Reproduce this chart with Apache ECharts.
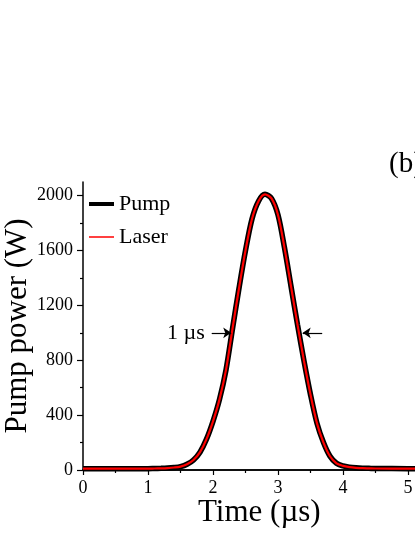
<!DOCTYPE html>
<html>
<head>
<meta charset="utf-8">
<script src="https://cdn.jsdelivr.net/npm/echarts@6/dist/echarts.min.js"></script>
<style>
  html, body { margin: 0; padding: 0; background: #fff; }
  #chart { width: 415px; height: 537px; }
</style>
</head>
<body>
<div id="chart"></div>
<script>
// time (µs) and power (W)
const timeUs = [0, 0.5, 1.0, 1.1, 1.2, 1.3, 1.4, 1.5, 1.6, 1.7, 1.8, 1.9, 2.0, 2.1, 2.2, 2.3, 2.4, 2.5, 2.6, 2.7, 2.8, 2.9, 3.0, 3.1, 3.2, 3.3, 3.4, 3.5, 3.6, 3.7, 3.8, 3.9, 4.0, 4.1, 4.2, 4.3, 4.4, 4.5, 5.0, 5.5, 6.0];
const pumpPower = [10, 10, 10, 11, 12, 14, 18, 25, 42, 73, 130, 225, 355, 515, 730, 1030, 1325, 1600, 1830, 1960, 2010, 1980, 1860, 1620, 1340, 1060, 795, 550, 340, 200, 100, 49, 30, 21, 16, 13, 12, 11, 10, 10, 10];
const laserPower = [10, 10, 10, 11, 12, 14, 18, 25, 42, 73, 130, 225, 355, 515, 730, 1030, 1325, 1600, 1830, 1960, 2010, 1980, 1860, 1620, 1340, 1060, 795, 550, 340, 200, 100, 49, 30, 21, 16, 13, 12, 11, 10, 10, 10];

const yMajor = [0, 400, 800, 1200, 1600, 2000];
const yMinor = [200, 600, 1000, 1400, 1800];

// FWHM arrows: [from, to] in µs, at half maximum
const fwhmLevel = 1000;
const arrowLeft = [1.98, 2.28];
const arrowRight = [3.68, 3.38];

const FONT = "Liberation Serif";

const chart = echarts.init(document.getElementById("chart"));

const pair = (xs, ys) => xs.map((x, i) => [x, ys[i]]);
const plain = (v) => String(v);

const option = {
  animation: false,
  grid: { left: 83, top: 182, width: 390, height: 288, containLabel: false, outerBoundsMode: "none" },
  legend: {
    orient: "vertical",
    left: 89,
    top: 193,
    padding: 0,
    itemWidth: 25,
    itemHeight: 14,
    itemGap: 11,
    symbolKeepAspect: true,
    textStyle: { fontFamily: FONT, fontSize: 22, color: "#000" },
    data: [
      { name: "Pump", icon: "path://M0,0H25V4H0Z", itemStyle: { color: "#000" } },
      { name: "Laser", icon: "path://M0,0H25V1.5H0Z", itemStyle: { color: "#ff0000" } },
    ],
  },
  graphic: [
    {
      type: "text",
      left: 198,
      top: 497,
      style: { text: "Time (µs)", font: "31px " + FONT, fill: "#000" },
    },
    {
      type: "text",
      left: 389,
      top: 150,
      style: { text: "(b)", font: "29px " + FONT, fill: "#000" },
    },
  ],
  xAxis: [
    {
      type: "value",
      min: 0,
      max: 6,
      interval: 1,
      axisLine: { lineStyle: { color: "#000", width: 1.5 } },
      axisTick: { length: 5, lineStyle: { color: "#000", width: 1.2 } },
      minorTick: { show: true, splitNumber: 2, length: 3, lineStyle: { color: "#000", width: 1.2 } },
      splitLine: { show: false },
      axisLabel: { fontFamily: FONT, fontSize: 18, color: "#000", margin: 9, formatter: plain },
    },
    {
      type: "value",
      position: "top",
      min: 0,
      max: 6,
      axisLine: { show: true, lineStyle: { color: "#000", width: 1.5 } },
      axisTick: { show: false },
      axisLabel: { show: false },
      splitLine: { show: false },
    },
  ],
  yAxis: [
    {
      type: "value",
      min: 0,
      max: 2100,
      interval: 400,
      name: "Pump power (W)",
      nameLocation: "middle",
      nameGap: 50,
      nameMoveOverlap: false,
      nameTextStyle: { fontFamily: FONT, fontSize: 31, color: "#000" },
      axisLine: { show: true, lineStyle: { color: "#000", width: 1.5 } },
      axisTick: { customValues: yMajor, length: 6, lineStyle: { color: "#000", width: 1.2 } },
      axisLabel: { customValues: yMajor, fontFamily: FONT, fontSize: 18, color: "#000", margin: 10, formatter: plain },
      splitLine: { show: false },
    },
    {
      type: "value",
      min: 0,
      max: 2100,
      position: "left",
      axisLine: { show: false },
      axisTick: { show: true, customValues: yMinor, length: 3, lineStyle: { color: "#000", width: 1.2 } },
      axisLabel: { show: false },
      splitLine: { show: false },
    },
  ],
  series: [
    {
      name: "Pump",
      type: "line",
      data: pair(timeUs, pumpPower),
      smooth: 0.3,
      symbol: "none",
      lineStyle: { color: "#000", width: 5.5 },
      itemStyle: { color: "#000" },
    },
    {
      name: "Laser",
      type: "line",
      data: pair(timeUs, laserPower),
      smooth: 0.3,
      symbol: "none",
      lineStyle: { color: "#ff0000", width: 2.2 },
      itemStyle: { color: "#ff0000" },
      markLine: {
        silent: true,
        symbol: ["none", "arrow"],
        symbolSize: [8, 8],
        lineStyle: { color: "#000", width: 1.2, type: "solid" },
        data: [
          [
            {
              coord: [arrowLeft[0], fwhmLevel],
              label: {
                show: true,
                position: "start",
                formatter: "1 µs",
                fontFamily: FONT,
                fontSize: 22,
                color: "#000",
                distance: 7,
              },
            },
            { coord: [arrowLeft[1], fwhmLevel] },
          ],
          [
            { coord: [arrowRight[0], fwhmLevel], label: { show: false } },
            { coord: [arrowRight[1], fwhmLevel] },
          ],
        ],
      },
    },
  ],
};

chart.setOption(option);
</script>
</body>
</html>
